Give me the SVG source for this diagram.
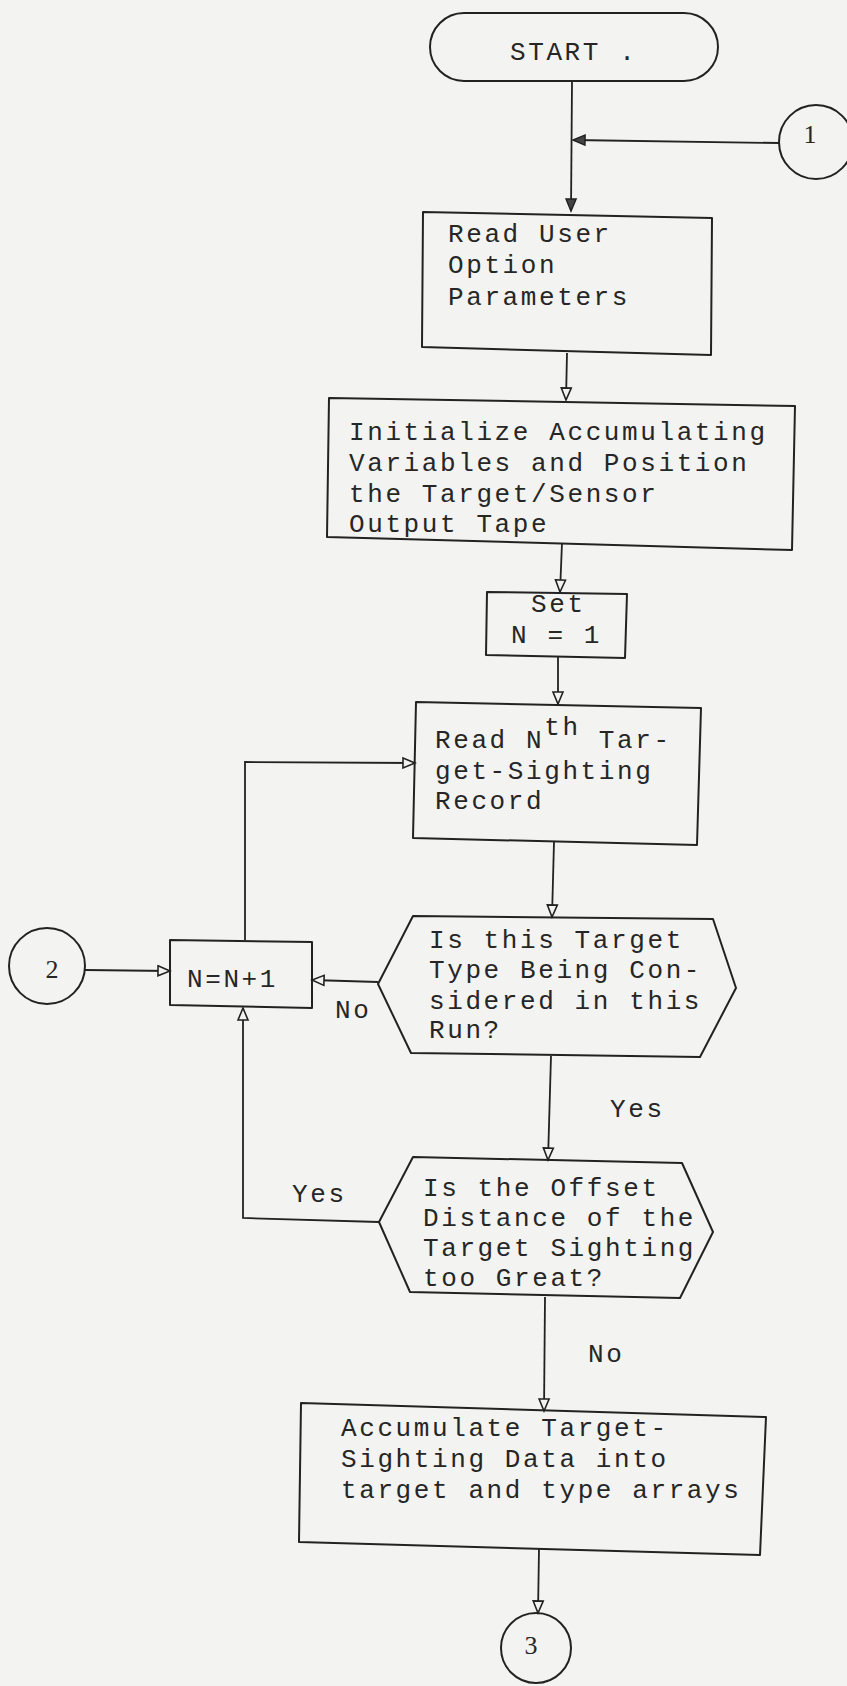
<svg xmlns="http://www.w3.org/2000/svg" width="847" height="1686" viewBox="0 0 847 1686">
  <defs>
    <style>
      .bg { fill: #f3f3f1; }
      .shape { fill: none; stroke: #222; stroke-width: 2; stroke-linejoin: round; }
      .wire { fill: none; stroke: #222; stroke-width: 1.8; }
      .t { font-family: "Liberation Mono", "DejaVu Sans Mono", monospace; font-size: 26px; letter-spacing: 2.6px; fill: #262626; }
      .num { font-family: "Liberation Serif", "DejaVu Serif", serif; font-size: 26px; fill: #262626; text-anchor: middle; }
    </style>
    <marker id="arrowSolid" markerUnits="userSpaceOnUse" markerWidth="15" markerHeight="13" refX="13" refY="6.5" orient="auto">
      <path d="M1,1.5 L13,6.5 L1,11.5 z" fill="#444" stroke="#222" stroke-width="1.5"/>
    </marker>
    <marker id="arrowOpen" markerUnits="userSpaceOnUse" markerWidth="15" markerHeight="13" refX="13" refY="6.5" orient="auto">
      <path d="M1,1.5 L13,6.5 L1,11.5 z" fill="#f3f3f1" stroke="#222" stroke-width="1.6"/>
    </marker>
  </defs>

  <rect class="bg" x="0" y="0" width="847" height="1686"/>

  <!-- connectors -->
  <g id="connectors">
    <path class="wire" d="M572,82 L571,211" marker-end="url(#arrowSolid)"/>
    <path class="wire" d="M779,143 L573,140" marker-end="url(#arrowSolid)"/>
    <path class="wire" d="M567,353 L566,400" marker-end="url(#arrowOpen)"/>
    <path class="wire" d="M562,543 L560,592" marker-end="url(#arrowOpen)"/>
    <path class="wire" d="M558,657 L558,704" marker-end="url(#arrowOpen)"/>
    <path class="wire" d="M245,940 L245,762 L415,763" marker-end="url(#arrowOpen)"/>
    <path class="wire" d="M554,842 L552,917" marker-end="url(#arrowOpen)"/>
    <path class="wire" d="M85,970 L170,971" marker-end="url(#arrowOpen)"/>
    <path class="wire" d="M378,982 L312,980" marker-end="url(#arrowOpen)"/>
    <path class="wire" d="M551,1056 L548,1160" marker-end="url(#arrowOpen)"/>
    <path class="wire" d="M379,1222 L243,1218 L243,1008" marker-end="url(#arrowOpen)"/>
    <path class="wire" d="M545,1297 L544,1411" marker-end="url(#arrowOpen)"/>
    <path class="wire" d="M539,1549 L538,1613" marker-end="url(#arrowOpen)"/>
    <text class="t" x="335" y="1018">No</text>
    <text class="t" x="610" y="1117">Yes</text>
    <text class="t" x="292" y="1202">Yes</text>
    <text class="t" x="588" y="1362">No</text>
  </g>

  <!-- terminal -->
  <g id="start">
    <rect class="shape" x="430" y="13" width="288" height="68" rx="34" ry="34"/>
    <text class="t" x="510" y="60">START .</text>
  </g>

  <!-- off-page connectors -->
  <g id="conn1">
    <circle class="shape" cx="816" cy="142" r="37"/>
    <text class="num" x="810" y="143">1</text>
  </g>
  <g id="conn2">
    <circle class="shape" cx="47" cy="966" r="38"/>
    <text class="num" x="52" y="978">2</text>
  </g>
  <g id="conn3">
    <circle class="shape" cx="536" cy="1648" r="35"/>
    <text class="num" x="531" y="1654">3</text>
  </g>

  <!-- process boxes -->
  <g id="readOptions">
    <polygon class="shape" points="423,212 712,218 711,355 422,347"/>
    <text class="t" x="448" y="242">Read User</text>
    <text class="t" x="448" y="273">Option</text>
    <text class="t" x="448" y="305">Parameters</text>
  </g>

  <g id="initialize">
    <polygon class="shape" points="329,398 795,406 792,550 327,537"/>
    <text class="t" x="349" y="440">Initialize Accumulating</text>
    <text class="t" x="349" y="471">Variables and Position</text>
    <text class="t" x="349" y="502">the Target/Sensor</text>
    <text class="t" x="349" y="532">Output Tape</text>
  </g>

  <g id="setN">
    <polygon class="shape" points="487,592 627,594 625,658 486,655"/>
    <text class="t" x="531" y="612">Set</text>
    <text class="t" x="511" y="643">N = 1</text>
  </g>

  <g id="readRecord">
    <polygon class="shape" points="416,702 701,708 697,845 413,838"/>
    <text class="t" x="435" y="748">Read N<tspan dy="-13">th</tspan><tspan dy="13"> Tar-</tspan></text>
    <text class="t" x="435" y="779">get-Sighting</text>
    <text class="t" x="435" y="809">Record</text>
  </g>

  <g id="increment">
    <polygon class="shape" points="170,940 312,942 312,1008 170,1005"/>
    <text class="t" x="187" y="987">N=N+1</text>
  </g>

  <!-- decisions -->
  <g id="typeCheck">
    <polygon class="shape" points="378,984 413,916 713,919 736,988 700,1057 411,1053"/>
    <text class="t" x="429" y="948">Is this Target</text>
    <text class="t" x="429" y="978">Type Being Con-</text>
    <text class="t" x="429" y="1009">sidered in this</text>
    <text class="t" x="429" y="1038">Run?</text>
  </g>

  <g id="offsetCheck">
    <polygon class="shape" points="379,1222 413,1157 682,1163 713,1232 680,1298 410,1292"/>
    <text class="t" x="423" y="1196">Is the Offset</text>
    <text class="t" x="423" y="1226">Distance of the</text>
    <text class="t" x="423" y="1256">Target Sighting</text>
    <text class="t" x="423" y="1286">too Great?</text>
  </g>

  <g id="accumulate">
    <polygon class="shape" points="301,1403 766,1417 760,1555 299,1542"/>
    <text class="t" x="341" y="1436">Accumulate Target-</text>
    <text class="t" x="341" y="1467">Sighting Data into</text>
    <text class="t" x="341" y="1498">target and type arrays</text>
  </g>
</svg>
